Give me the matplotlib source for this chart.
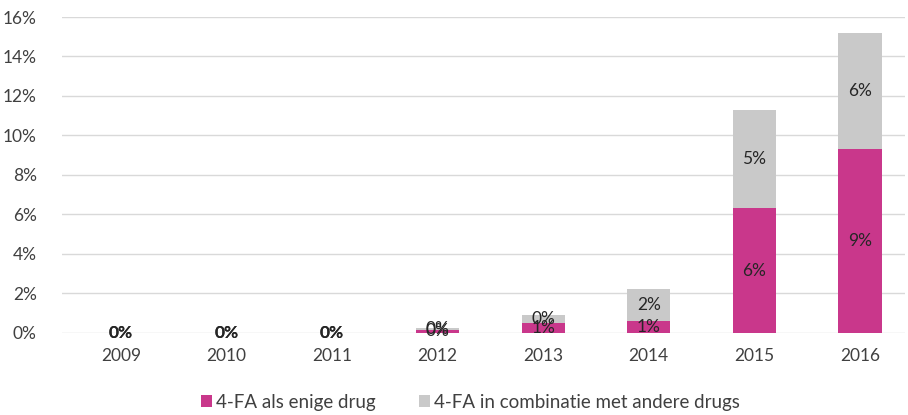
import matplotlib.pyplot as plt
from matplotlib.ticker import PercentFormatter

# data (percent)
years = ['2009', '2010', '2011', '2012', '2013', '2014', '2015', '2016']
alone = [0.0, 0.0, 0.0, 0.15, 0.5, 0.6, 6.3, 9.3]
combi = [0.0, 0.0, 0.0, 0.12, 0.4, 1.6, 5.0, 5.9]
alone_lbl = ['0%', '0%', '0%', '0%', '1%', '1%', '6%', '9%']
combi_lbl = ['0%', '0%', '0%', '0%', '0%', '2%', '5%', '6%']

pink = '#C9378B'
grey = '#C9C9C9'

plt.rcParams['font.family'] = ['Lato', 'DejaVu Sans']

fig = plt.figure(figsize=(9.08, 4.15), dpi=100)
ax = fig.add_axes([0.068, 0.198, 0.929, 0.761])

x = range(len(years))
b1 = ax.bar(x, alone, width=0.41, color=pink, label='4-FA als enige drug', zorder=3)
b2 = ax.bar(x, combi, width=0.41, bottom=alone, color=grey,
            label='4-FA in combinatie met andere drugs', zorder=3)

#labels in the middle of each segment (empty years look bolder, two labels stacked)
for i in x:
    wt = 'bold' if alone[i] + combi[i] == 0 else 'normal'
    ax.text(i, alone[i] / 2, alone_lbl[i], ha='center', va='center',
            fontsize=12.5, color='#262626', fontweight=wt, zorder=4)
    ax.text(i, alone[i] + combi[i] / 2, combi_lbl[i], ha='center', va='center',
            fontsize=12.5, color='#262626', fontweight=wt, zorder=4)

ax.set_ylim(0, 16)
ax.set_yticks(range(0, 17, 2))
ax.yaxis.set_major_formatter(PercentFormatter(decimals=0))
ax.set_xlim(-0.56, 7.43)
ax.set_xticks(list(x))
ax.set_xticklabels(years)
ax.tick_params(length=0, labelsize=12.5, colors='#404040')
ax.tick_params(axis='x', pad=11)
ax.tick_params(axis='y', pad=18)
ax.grid(axis='y', color='#D9D9D9', linewidth=1, zorder=0)
for s in ax.spines.values():
    s.set_visible(False)

fig.legend(handles=[b1, b2], loc='center', bbox_to_anchor=(0.518, 0.03), ncol=2,
           frameon=False, fontsize=13.5, handlelength=0.6, handleheight=0.6,
           handletextpad=0.2, columnspacing=2.3, labelcolor='#404040')

fig.savefig('out.png', dpi=100)
